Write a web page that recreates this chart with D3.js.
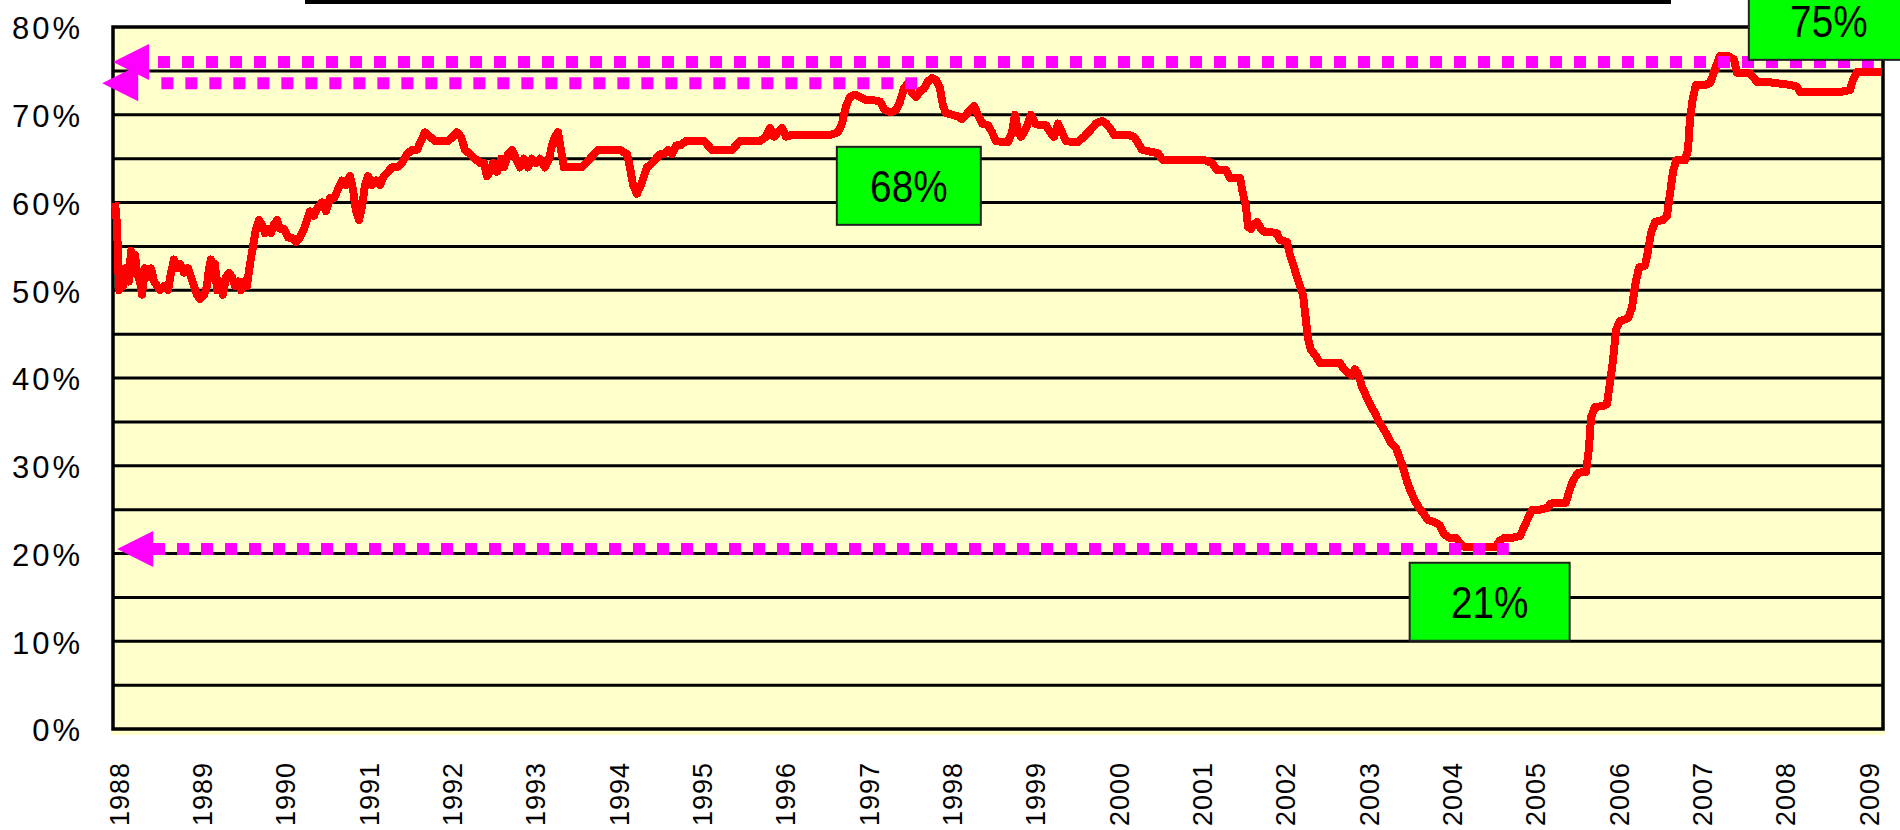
<!DOCTYPE html>
<html>
<head>
<meta charset="utf-8">
<script src="https://cdn.jsdelivr.net/npm/d3@7"></script>
<style>
  body { margin: 0; background: #ffffff; }
  svg { display: block; }
  .yaxis text { font-family: "Liberation Sans", Arial, sans-serif; font-size: 31px; letter-spacing: 3px; fill: #000; }
  .xaxis text { font-family: "Liberation Sans", Arial, sans-serif; font-size: 27px; letter-spacing: 1px; fill: #000; }
  .callout text { font-family: "Liberation Sans", Arial, sans-serif; font-size: 45px; fill: #000; }
</style>
</head>
<body>
<svg id="chart" width="1900" height="830"></svg>
<script>
/*****************************************
*   Data
*****************************************/

// tick labels
const YEAR_TICKS = [1988, 1989, 1990, 1991, 1992, 1993, 1994, 1995, 1996, 1997, 1998,
                    1999, 2000, 2001, 2002, 2003, 2004, 2005, 2006, 2007, 2008, 2009];
const PCT_TICKS = [0, 10, 20, 30, 40, 50, 60, 70, 80];
const GRID_LEVELS = [5, 10, 15, 20, 25, 30, 35, 40, 45, 50, 55, 60, 65, 70, 75];

// the series: [year, percent]
const SERIES = [
  [1987.964, 60.0], [1987.988, 57.5], [1988.012, 50.0], [1988.036, 52.5], [1988.060, 50.5],
  [1988.096, 52.5], [1988.132, 51.0], [1988.156, 54.5], [1988.180, 52.0], [1988.204, 54.0],
  [1988.228, 52.0], [1988.264, 51.0], [1988.288, 49.5], [1988.324, 52.5], [1988.360, 51.5],
  [1988.396, 52.5], [1988.432, 51.0], [1988.468, 50.5], [1988.504, 50.0], [1988.552, 50.5],
  [1988.600, 50.0], [1988.636, 52.0], [1988.672, 53.5], [1988.708, 52.5], [1988.744, 53.0],
  [1988.792, 52.0], [1988.840, 52.5], [1988.876, 51.5], [1988.912, 50.5], [1988.948, 49.5],
  [1988.984, 49.0], [1989.032, 49.5], [1989.068, 50.5], [1989.092, 52.5], [1989.116, 53.5],
  [1989.140, 52.0], [1989.164, 53.0], [1989.188, 50.0], [1989.224, 51.0], [1989.260, 49.5],
  [1989.296, 51.5], [1989.332, 52.0], [1989.368, 51.5], [1989.404, 50.5], [1989.440, 51.0],
  [1989.476, 50.0], [1989.512, 51.0], [1989.548, 50.5], [1989.584, 53.0], [1989.620, 55.0],
  [1989.656, 57.0], [1989.692, 58.0], [1989.728, 57.5], [1989.764, 56.5], [1989.800, 57.0],
  [1989.836, 56.5], [1989.872, 57.5], [1989.908, 58.0], [1989.944, 57.0], [1989.992, 57.0],
  [1990.040, 56.0], [1990.088, 56.0], [1990.136, 55.5], [1990.184, 56.0], [1990.232, 57.0],
  [1990.268, 58.0], [1990.304, 59.0], [1990.352, 58.5], [1990.400, 59.5], [1990.448, 60.0],
  [1990.496, 59.0], [1990.544, 60.5], [1990.592, 60.5], [1990.640, 61.5], [1990.688, 62.5],
  [1990.736, 62.0], [1990.784, 63.0], [1990.820, 61.5], [1990.856, 59.0], [1990.892, 58.0],
  [1990.928, 59.5], [1990.964, 62.0], [1991.000, 63.0], [1991.048, 62.0], [1991.096, 62.5],
  [1991.144, 62.0], [1991.192, 63.0], [1991.240, 63.5], [1991.288, 64.0], [1991.348, 64.0],
  [1991.408, 64.5], [1991.468, 65.5], [1991.528, 66.0], [1991.588, 66.0], [1991.636, 67.0],
  [1991.684, 68.0], [1991.744, 67.5], [1991.804, 67.0], [1991.888, 67.0], [1991.960, 67.0],
  [1992.020, 67.5], [1992.068, 68.0], [1992.116, 67.5], [1992.164, 66.0], [1992.224, 65.5],
  [1992.284, 65.0], [1992.344, 64.5], [1992.392, 64.5], [1992.428, 63.0], [1992.464, 63.5],
  [1992.500, 64.5], [1992.548, 63.5], [1992.596, 65.0], [1992.632, 64.0], [1992.680, 65.5],
  [1992.728, 66.0], [1992.776, 65.0], [1992.824, 64.0], [1992.872, 65.0], [1992.920, 64.0],
  [1992.968, 65.0], [1993.016, 64.5], [1993.064, 65.0], [1993.124, 64.0], [1993.172, 65.0],
  [1993.208, 66.5], [1993.244, 67.5], [1993.280, 68.0], [1993.316, 66.0], [1993.352, 64.0],
  [1993.424, 64.0], [1993.496, 64.0], [1993.568, 64.0], [1993.616, 64.5], [1993.664, 65.0],
  [1993.712, 65.5], [1993.760, 66.0], [1993.832, 66.0], [1993.928, 66.0], [1994.024, 66.0],
  [1994.108, 65.5], [1994.144, 64.0], [1994.180, 62.0], [1994.228, 61.0], [1994.276, 62.0],
  [1994.312, 63.0], [1994.348, 64.0], [1994.408, 64.5], [1994.456, 65.0], [1994.504, 65.5],
  [1994.552, 65.5], [1994.600, 66.0], [1994.648, 65.5], [1994.696, 66.5], [1994.744, 66.5],
  [1994.816, 67.0], [1994.888, 67.0], [1994.960, 67.0], [1995.032, 67.0], [1995.080, 66.5],
  [1995.128, 66.0], [1995.200, 66.0], [1995.296, 66.0], [1995.368, 66.0], [1995.416, 66.5],
  [1995.464, 67.0], [1995.536, 67.0], [1995.608, 67.0], [1995.704, 67.0], [1995.776, 67.5],
  [1995.824, 68.5], [1995.872, 67.5], [1995.920, 68.0], [1995.968, 68.5], [1996.016, 67.5],
  [1996.088, 67.7], [1996.184, 67.7], [1996.304, 67.7], [1996.424, 67.7], [1996.544, 67.7],
  [1996.640, 68.0], [1996.688, 69.0], [1996.736, 71.0], [1996.784, 72.0], [1996.844, 72.3],
  [1996.904, 72.0], [1996.976, 71.7], [1997.048, 71.7], [1997.144, 71.5], [1997.204, 70.5],
  [1997.264, 70.3], [1997.336, 70.5], [1997.384, 71.5], [1997.432, 73.0], [1997.480, 73.6],
  [1997.528, 72.5], [1997.576, 72.0], [1997.624, 72.7], [1997.672, 73.0], [1997.720, 73.8],
  [1997.768, 74.2], [1997.816, 74.0], [1997.864, 73.0], [1997.900, 71.0], [1997.936, 70.2],
  [1998.008, 70.0], [1998.080, 69.8], [1998.128, 69.5], [1998.176, 70.0], [1998.224, 70.5],
  [1998.272, 71.0], [1998.320, 70.0], [1998.368, 69.0], [1998.440, 68.8], [1998.488, 68.0],
  [1998.536, 67.0], [1998.608, 66.9], [1998.680, 66.9], [1998.728, 68.0], [1998.764, 70.0],
  [1998.800, 68.0], [1998.836, 67.5], [1998.872, 68.0], [1998.920, 69.0], [1998.956, 70.0],
  [1999.004, 69.0], [1999.064, 68.8], [1999.136, 68.8], [1999.184, 68.0], [1999.232, 67.5],
  [1999.280, 69.0], [1999.328, 68.0], [1999.376, 67.0], [1999.448, 66.9], [1999.520, 66.9],
  [1999.592, 67.5], [1999.664, 68.2], [1999.736, 69.0], [1999.808, 69.3], [1999.856, 69.0],
  [1999.904, 68.5], [1999.952, 67.7], [2000.024, 67.7], [2000.120, 67.7], [2000.192, 67.5],
  [2000.240, 66.8], [2000.288, 66.0], [2000.384, 65.8], [2000.480, 65.6], [2000.540, 64.8],
  [2000.684, 64.8], [2000.864, 64.8], [2001.044, 64.8], [2001.128, 64.5], [2001.188, 63.7],
  [2001.296, 63.7], [2001.344, 62.8], [2001.464, 62.8], [2001.500, 61.0], [2001.536, 59.5],
  [2001.560, 57.2], [2001.596, 57.0], [2001.632, 57.5], [2001.668, 57.8], [2001.716, 57.0],
  [2001.764, 56.6], [2001.848, 56.6], [2001.908, 56.5], [2001.944, 55.7], [2002.028, 55.5],
  [2002.064, 54.0], [2002.100, 53.0], [2002.148, 51.5], [2002.184, 50.5], [2002.220, 49.5],
  [2002.256, 46.5], [2002.280, 44.5], [2002.316, 43.2], [2002.376, 42.5], [2002.424, 41.7],
  [2002.544, 41.7], [2002.664, 41.7], [2002.712, 41.0], [2002.760, 40.6], [2002.808, 40.3],
  [2002.844, 41.0], [2002.880, 40.5], [2002.928, 39.0], [2002.976, 38.0], [2003.024, 37.0],
  [2003.084, 36.0], [2003.132, 35.0], [2003.180, 34.3], [2003.228, 33.5], [2003.276, 32.6],
  [2003.336, 32.0], [2003.384, 30.8], [2003.420, 29.8], [2003.468, 28.2], [2003.516, 27.0],
  [2003.564, 26.0], [2003.612, 25.2], [2003.672, 24.5], [2003.720, 23.8], [2003.792, 23.6],
  [2003.864, 23.2], [2003.912, 22.2], [2003.972, 21.8], [2004.056, 21.8], [2004.116, 21.0],
  [2004.164, 20.7], [2004.284, 20.7], [2004.404, 20.7], [2004.524, 20.7], [2004.584, 21.5],
  [2004.644, 21.8], [2004.740, 21.8], [2004.824, 22.0], [2004.872, 23.0], [2004.920, 24.0],
  [2004.968, 25.0], [2005.064, 25.0], [2005.148, 25.2], [2005.196, 25.7], [2005.304, 25.7],
  [2005.376, 25.8], [2005.412, 27.0], [2005.460, 28.3], [2005.520, 29.2], [2005.616, 29.3],
  [2005.652, 32.0], [2005.676, 35.5], [2005.724, 36.7], [2005.820, 36.8], [2005.868, 37.0],
  [2005.904, 39.5], [2005.940, 42.0], [2005.976, 45.5], [2006.024, 46.5], [2006.120, 46.8],
  [2006.168, 48.0], [2006.204, 50.5], [2006.252, 52.6], [2006.324, 52.8], [2006.360, 54.5],
  [2006.396, 56.5], [2006.444, 57.8], [2006.540, 58.0], [2006.588, 58.5], [2006.624, 61.0],
  [2006.660, 63.5], [2006.696, 64.8], [2006.804, 64.8], [2006.840, 66.0], [2006.864, 69.5],
  [2006.900, 72.0], [2006.936, 73.4], [2007.044, 73.4], [2007.104, 73.6], [2007.140, 74.5],
  [2007.176, 75.5], [2007.224, 76.7], [2007.320, 76.7], [2007.392, 76.3], [2007.428, 74.8],
  [2007.584, 74.7], [2007.632, 74.2], [2007.668, 73.7], [2007.824, 73.7], [2007.896, 73.6],
  [2008.064, 73.4], [2008.148, 73.2], [2008.184, 72.6], [2008.424, 72.6], [2008.664, 72.6],
  [2008.784, 72.8], [2008.820, 74.0], [2008.868, 74.9], [2009.024, 74.9], [2009.168, 74.9]
];

// dotted reference arrows: level (%), arrow tip, first dot, last dot (years)
const REF_LEVELS = [76.0, 73.6, 20.5];
const REF_TIP = [1987.94, 1987.81, 1987.99];
const REF_FROM = [1988.48, 1988.52, 1988.42];
const REF_TO = [2009.07, 1997.59, 2004.69];

// green call-outs: text and where they sit (year, percent)
const CALLOUT_TEXT = ["68%", "21%", "75%"];
const CALLOUT_YEAR = [1997.49, 2004.46, 2008.53];
const CALLOUT_PCT = [61.9, 14.5, 80.7];

/*****************************************
*   Layout and styles
*****************************************/

const PLOT_LEFT = 113;
const PLOT_RIGHT = 1883;
const PLOT_TOP = 27;
const PLOT_BOTTOM = 729;

const PLOT_BG = '#ffffcc';
const LINE_RED = '#ff0000';
const DOT_PINK = '#ff00ff';
const BOX_GREEN = '#00ff00';

const BOX_W = [144, 160, 160];
const BOX_H = 78;
const ARROW_LEN = 36;
const ARROW_HALF = 18;
const TEXT_SQUEEZE = 0.86;   // call-out font is a narrow one

var svg = d3.select('#chart');

var xScale = d3.scaleLinear()
    .domain([1987.94, 2009.18])
    .range([PLOT_LEFT, PLOT_RIGHT]);

var yScale = d3.scaleLinear()
    .domain([0, 80])
    .range([PLOT_BOTTOM, PLOT_TOP]);

/*****************************************
*   Drawing
*****************************************/

draw_frame();
draw_axes();
draw_series();
draw_refs();
draw_callouts();

function draw_frame() {
    // the cut off title underline at the very top
    svg.append('rect')
        .attr('x', 305)
        .attr('y', 0)
        .attr('width', 1366)
        .attr('height', 4)
        .attr('fill', '#000');

    svg.append('rect')
        .attr('x', PLOT_LEFT - 2)
        .attr('y', PLOT_TOP)
        .attr('width', PLOT_RIGHT - PLOT_LEFT + 4)
        .attr('height', PLOT_BOTTOM - PLOT_TOP + 6)
        .attr('fill', PLOT_BG);

    svg.append('g')
        .attr('class', 'grid')
        .selectAll('line')
        .data(GRID_LEVELS)
        .enter()
          .append('line')
          .attr('x1', PLOT_LEFT)
          .attr('x2', PLOT_RIGHT)
          .attr('y1', d => yScale(d))
          .attr('y2', d => yScale(d))
          .attr('stroke', '#000')
          .attr('stroke-width', 3);

    svg.append('rect')
        .attr('x', PLOT_LEFT)
        .attr('y', PLOT_TOP)
        .attr('width', PLOT_RIGHT - PLOT_LEFT)
        .attr('height', PLOT_BOTTOM - PLOT_TOP)
        .attr('fill', 'none')
        .attr('stroke', '#000')
        .attr('stroke-width', 3.5);
}

function draw_axes() {
    var yAxis = d3.axisLeft(yScale)
        .tickValues(PCT_TICKS)
        .tickFormat(d => d + '%')
        .tickSize(0)
        .tickPadding(0);
    svg.append('g')
        .attr('class', 'yaxis')
        .attr('transform', 'translate(83,2)')
        .call(yAxis)
        .call(g => g.select('.domain').remove());

    var xAxis = d3.axisBottom(xScale)
        .tickValues(YEAR_TICKS)
        .tickFormat(d3.format('d'))
        .tickSize(0);
    svg.append('g')
        .attr('class', 'xaxis')
        .attr('transform', 'translate(0,762)')
        .call(xAxis)
        .call(g => g.select('.domain').remove())
        .selectAll('text')
          .attr('transform', 'rotate(-90)')
          .attr('text-anchor', 'end')
          .attr('x', 0)
          .attr('y', 10)
          .attr('dy', 0);
}

function draw_series() {
    var line = d3.line()
        .x(d => xScale(d[0]))
        .y(d => yScale(d[1]));
    svg.append('path')
        .datum(SERIES)
        .attr('d', line)
        .attr('fill', 'none')
        .attr('stroke', LINE_RED)
        .attr('stroke-width', 8)
        .attr('stroke-linejoin', 'round')
        .attr('shape-rendering', 'crispEdges');
}

function draw_refs() {
    var g = svg.append('g').attr('class', 'refs');
    REF_LEVELS.forEach(function(level, i) {
        var y = yScale(level);
        var tip = xScale(REF_TIP[i]);
        g.append('line')
            .attr('x1', xScale(REF_FROM[i]))
            .attr('x2', xScale(REF_TO[i]))
            .attr('y1', y)
            .attr('y2', y)
            .attr('stroke', DOT_PINK)
            .attr('stroke-width', 12)
            .attr('stroke-dasharray', '12 12');
        g.append('path')
            .attr('d', 'M' + tip + ',' + y +
                       'L' + (tip + ARROW_LEN) + ',' + (y - ARROW_HALF) +
                       'L' + (tip + ARROW_LEN) + ',' + (y + ARROW_HALF) + 'Z')
            .attr('fill', DOT_PINK);
    });
}

function draw_callouts() {
    var g = svg.append('g')
        .attr('class', 'callout')
        .selectAll('g')
        .data(CALLOUT_TEXT)
        .enter()
          .append('g')
          .attr('transform', (d, i) => 'translate(' + xScale(CALLOUT_YEAR[i]) + ',' + yScale(CALLOUT_PCT[i]) + ')');
    g.append('rect')
        .attr('x', (d, i) => -BOX_W[i] / 2)
        .attr('y', -BOX_H / 2)
        .attr('width', (d, i) => BOX_W[i])
        .attr('height', BOX_H)
        .attr('fill', BOX_GREEN)
        .attr('stroke', '#222')
        .attr('stroke-width', 2);
    g.append('text')
        .attr('text-anchor', 'middle')
        .attr('dy', '0.36em')
        .attr('transform', 'scale(' + TEXT_SQUEEZE + ',1)')
        .text(d => d);
}
</script>
</body>
</html>
